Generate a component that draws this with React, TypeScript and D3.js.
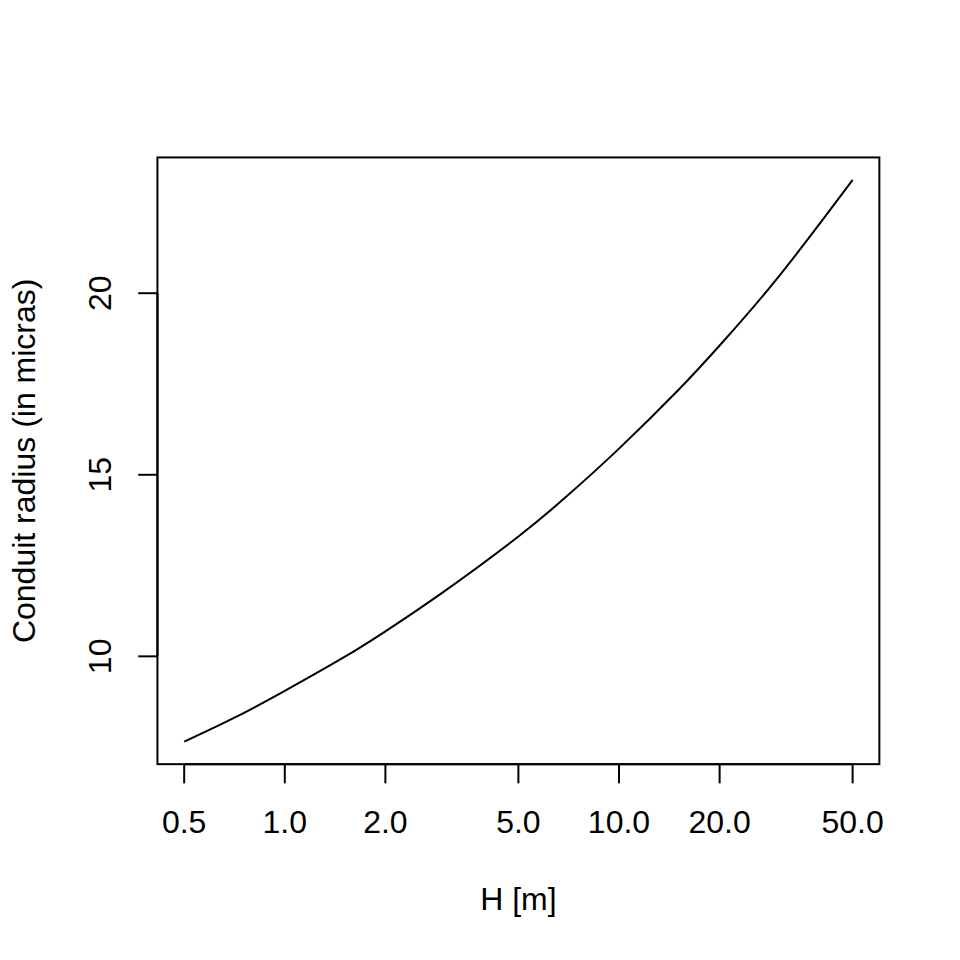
import React from "react";
import * as d3 from "d3";

const heights = [0.5, 0.7, 1, 1.5, 2, 3, 5, 7, 10, 15, 20, 30, 50];
const radius = [7.65, 8.29, 9.05, 9.97, 10.69, 11.79, 13.3, 14.42, 15.72, 17.32, 18.56, 20.45, 23.12];
const xTicks = [0.5, 1, 2, 5, 10, 20, 50];
const xTickLabels = ["0.5", "1.0", "2.0", "5.0", "10.0", "20.0", "50.0"];
const yTicks = [10, 15, 20];
const xTitle = "H [m]";
const yTitle = "Conduit radius (in micras)";

const W = 960;
const H = 960;
const LINE = 38.4;
const FONT = 32;
const left = 4.1 * LINE;
const right = W - 2.1 * LINE;
const top = 4.1 * LINE;
const bottom = H - 5.1 * LINE;

export default function App() {
  const lx0 = Math.log10(d3.min(heights)!);
  const lx1 = Math.log10(d3.max(heights)!);
  const ex = (lx1 - lx0) * 0.04;
  const x = d3
    .scaleLog()
    .domain([Math.pow(10, lx0 - ex), Math.pow(10, lx1 + ex)])
    .range([left, right]);
  const y0 = d3.min(radius)!;
  const y1 = d3.max(radius)!;
  const ey = (y1 - y0) * 0.04;
  const y = d3.scaleLinear().domain([y0 - ey, y1 + ey]).range([bottom, top]);

  const pts = heights.map((h, i) => [h, radius[i]] as [number, number]);
  const line = d3
    .line<[number, number]>()
    .x((d) => x(d[0]))
    .y((d) => y(d[1]))
    .curve(d3.curveNatural);

  const tick = 0.5 * LINE;
  const font = "'Liberation Sans', Arial, Helvetica, sans-serif";

  return (
    <svg
      width={W}
      height={H}
      style={{ position: "absolute", left: 0, top: 0, background: "#fff" }}
      fontFamily={font}
      fontSize={FONT}
    >
      <rect x={0} y={0} width={W} height={H} fill="#fff" />
      <path d={line(pts) || ""} fill="none" stroke="#000" strokeWidth={2} />
      <rect
        x={left}
        y={top}
        width={right - left}
        height={bottom - top}
        fill="none"
        stroke="#000"
        strokeWidth={2}
      />
      {/* x axis */}
      <line x1={x(xTicks[0])} x2={x(xTicks[xTicks.length - 1])} y1={bottom} y2={bottom} stroke="#000" strokeWidth={2} />
      {xTicks.map((t, i) => (
        <g key={"xt" + i}>
          <line x1={x(t)} x2={x(t)} y1={bottom} y2={bottom + tick} stroke="#000" strokeWidth={2} />
          <text x={x(t)} y={bottom + 1.8 * LINE} textAnchor="middle">
            {xTickLabels[i]}
          </text>
        </g>
      ))}
      {/* y axis */}
      <line x1={left} x2={left} y1={y(yTicks[0])} y2={y(yTicks[yTicks.length - 1])} stroke="#000" strokeWidth={2} />
      {yTicks.map((t, i) => (
        <g key={"yt" + i}>
          <line x1={left} x2={left - tick} y1={y(t)} y2={y(t)} stroke="#000" strokeWidth={2} />
          <text
            transform={`translate(${left - 1.2 * LINE},${y(t)}) rotate(-90)`}
            textAnchor="middle"
          >
            {String(t)}
          </text>
        </g>
      ))}
      <text x={(left + right) / 2} y={bottom + 3.8 * LINE} textAnchor="middle">
        {xTitle}
      </text>
      <text
        transform={`translate(${left - 3.2 * LINE},${(top + bottom) / 2}) rotate(-90)`}
        textAnchor="middle"
      >
        {yTitle}
      </text>
    </svg>
  );
}
